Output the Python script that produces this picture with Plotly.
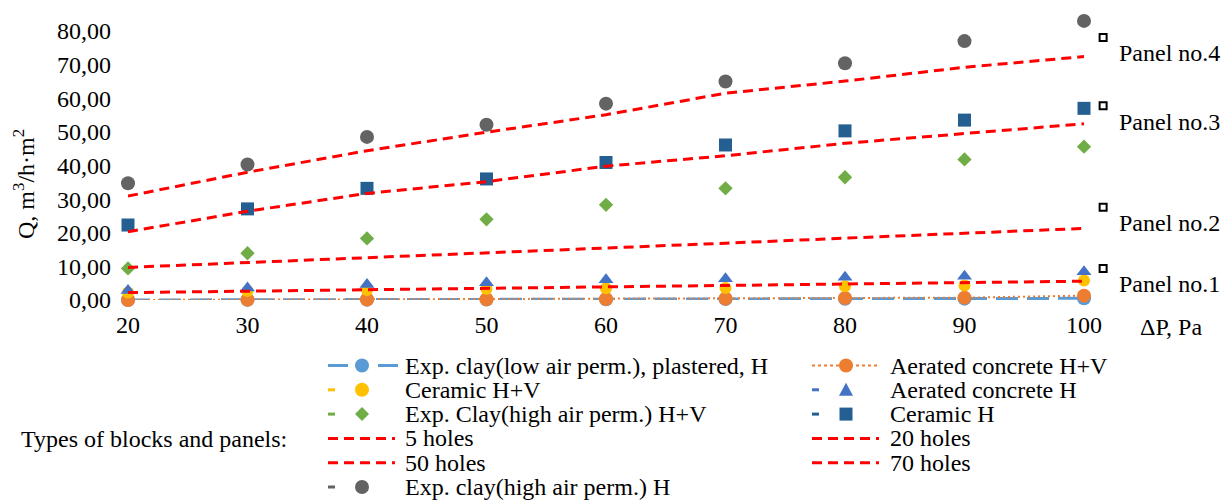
import plotly.graph_objects as go

# ---------------- data ----------------
dp = [20, 30, 40, 50, 60, 70, 80, 90, 100]
expclay_low_plastered_H = [0.0, 0.05, 0.1, 0.15, 0.2, 0.3, 0.35, 0.4, 0.5]
aerated_HV = [0.0, 0.1, 0.15, 0.2, 0.3, 0.4, 0.6, 0.7, 1.3]
ceramic_HV = [2.2, 2.7, 3.0, 3.3, 3.5, 3.6, 4.1, 4.3, 5.8]
aerated_H = [2.8, 3.6, 4.6, 5.1, 6.0, 6.3, 6.8, 7.1, 8.4]
expclay_high_HV = [9.4, 13.9, 18.3, 24.0, 28.3, 33.2, 36.5, 41.8, 45.6]
ceramic_H = [22.3, 27.1, 33.2, 36.0, 40.9, 46.1, 50.3, 53.5, 57.0]
holes_5 = [2.2, 2.6, 3.0, 3.4, 3.8, 4.3, 4.7, 5.1, 5.6]
holes_20 = [9.7, 11.1, 12.6, 14.1, 15.5, 16.9, 18.4, 19.8, 21.3]
holes_50 = [20.3, 26.4, 31.7, 35.2, 39.8, 42.9, 46.6, 49.6, 52.4]
holes_70 = [30.9, 38.0, 44.4, 49.9, 55.1, 61.5, 65.1, 69.2, 72.4]
expclay_high_H = [34.7, 40.3, 48.5, 52.1, 58.4, 65.0, 70.4, 77.0, 83.0]

panel_x = [101.6, 101.6, 101.6, 101.6]
panel_y = [78.1, 57.8, 27.6, 9.4]
panel_labels = ["Panel no.4", "Panel no.3", "Panel no.2", "Panel no.1"]

x_ticks = [20, 30, 40, 50, 60, 70, 80, 90, 100]
y_ticks = [0, 10, 20, 30, 40, 50, 60, 70, 80]

names = [
    "Exp. clay(low air perm.), plastered, H",
    "Aerated concrete H+V",
    "Ceramic H+V",
    "Aerated concrete H",
    "Exp. Clay(high air perm.) H+V",
    "Ceramic H",
    "5 holes",
    "20 holes",
    "50 holes",
    "70 holes",
    "Exp. clay(high air perm.) H",
]

# ---------------- styles ----------------
FONT = "Liberation Serif, Times New Roman, serif"
FS = 24
C_LBLUE = "#5B9BD5"
C_ORANGE = "#ED7D31"
C_YELLOW = "#FFC000"
C_BLUE = "#4472C4"
C_GREEN = "#70AD47"
C_DBLUE = "#255E91"
C_GREY = "#636363"
C_RED = "#FF0000"
RED_DASH = "10px,6px"

fig = go.Figure()

def markers(y, name, color, symbol, size):
    fig.add_trace(go.Scatter(
        x=dp, y=y, name=name, mode="markers", cliponaxis=False,
        marker=dict(color=color, symbol=symbol, size=size, line=dict(width=0)),
        showlegend=False))

fig.add_trace(go.Scatter(
    x=dp, y=expclay_low_plastered_H, name=names[0], mode="lines+markers",
    cliponaxis=False, line=dict(color=C_LBLUE, width=3, dash="22px,9px"),
    marker=dict(color=C_LBLUE, size=14), showlegend=False))
fig.add_trace(go.Scatter(
    x=dp, y=aerated_HV, name=names[1], mode="lines+markers",
    cliponaxis=False, line=dict(color=C_ORANGE, width=2, dash="2px,3px"),
    marker=dict(color=C_ORANGE, size=14), showlegend=False))
markers(ceramic_HV, names[2], C_YELLOW, "circle", 12)
markers(aerated_H, names[3], C_BLUE, "triangle-up", 13)
markers(expclay_high_HV, names[4], C_GREEN, "diamond", 11)
markers(ceramic_H, names[5], C_DBLUE, "square", 13)

for yv, nm in [(holes_5, names[6]), (holes_20, names[7]),
               (holes_50, names[8]), (holes_70, names[9])]:
    fig.add_trace(go.Scatter(
        x=dp, y=yv, name=nm, mode="lines", cliponaxis=False,
        line=dict(color=C_RED, width=3, dash=RED_DASH), showlegend=False))

markers(expclay_high_H, names[10], C_GREY, "circle", 14)

# panel label markers
fig.add_trace(go.Scatter(
    x=panel_x, y=panel_y, mode="markers", cliponaxis=False, showlegend=False,
    marker=dict(symbol="square-open", size=7, color="black",
                line=dict(width=2, color="black")),
    hoverinfo="skip"))

# ---------------- geometry ----------------
# pixel positions of the value grid: x=20 -> 128px, x=100 -> 1084px,
# y=0 -> 300px, y=80 -> 31px
X0_PX, X1_PX = 128, 1084
Y0_PX, Y80_PX = 300, 31
PX_PER_X = (X1_PX - X0_PX) / 80.0
PX_PER_Y = (Y0_PX - Y80_PX) / 80.0
L = X0_PX
R = 79                      # extend plot area to the right (invisible axis)
T = 11                      # extend plot area upward (invisible axis)
B = 500 - Y0_PX
W = 1223 - L - R
H = 500 - T - B
X_MAX = 20 + W / PX_PER_X
Y_MAX = H / PX_PER_Y

def pxx(px):
    return (px - L) / W

def pxy(py):
    return (T + H - py) / H

annotations = []
for xv, yv, lab in zip(panel_x, panel_y, panel_labels):
    annotations.append(dict(x=xv, y=yv, xref="x", yref="y", text=lab,
                            showarrow=False, xanchor="left", yanchor="middle",
                            xshift=14, yshift=-16,
                            font=dict(family=FONT, size=FS, color="black")))

annotations.append(dict(x=pxx(1138), y=pxy(327), xref="paper", yref="paper",
                        text="ΔP, Pa", showarrow=False, xanchor="left",
                        yanchor="middle",
                        font=dict(family=FONT, size=FS, color="black")))
annotations.append(dict(x=pxx(24), y=pxy(184), xref="paper", yref="paper",
                        text="Q, m<sup>3</sup>/h·m<sup>2</sup>", showarrow=False,
                        textangle=-90, xanchor="center", yanchor="middle",
                        font=dict(family=FONT, size=FS, color="black")))
annotations.append(dict(x=pxx(19), y=pxy(439), xref="paper", yref="paper",
                        text="Types of blocks and panels:", showarrow=False,
                        xanchor="left", yanchor="middle",
                        font=dict(family=FONT, size=FS, color="black")))

# ---------------- custom two-column legend ----------------
rows_py = [365.5, 389.8, 414.1, 438.4, 462.7, 487]
col_sym_left = [328, 812]
col_mark_x = [362, 846]
col_text_x = [404, 889]
# (kind, color, symbol) per legend entry, in legend order (row-major)
legend_style = [
    ("line+marker", C_LBLUE, "circle"),
    ("dot+marker", C_ORANGE, "circle"),
    ("tick+marker", C_YELLOW, "circle"),
    ("tick+marker", C_BLUE, "triangle"),
    ("tick+marker", C_GREEN, "diamond"),
    ("tick+marker", C_DBLUE, "square"),
    ("redline", C_RED, None),
    ("redline", C_RED, None),
    ("redline", C_RED, None),
    ("redline", C_RED, None),
    ("tick+marker", C_GREY, "circle"),
]

shapes = []

def hline(x0, x1, py, color, width, dash):
    shapes.append(dict(type="line", xref="paper", yref="paper",
                       x0=pxx(x0), x1=pxx(x1), y0=pxy(py), y1=pxy(py),
                       line=dict(color=color, width=width, dash=dash)))

def glyph(cx, py, color, symbol):
    base = dict(xref="paper", yref="paper", xsizemode="pixel", ysizemode="pixel",
                xanchor=pxx(cx), yanchor=pxy(py), fillcolor=color,
                line=dict(width=0))
    if symbol == "circle":
        s = dict(type="circle", x0=-7, x1=7, y0=-7, y1=7)
    elif symbol == "square":
        s = dict(type="rect", x0=-6.5, x1=6.5, y0=-6.5, y1=6.5)
    elif symbol == "diamond":
        s = dict(type="path", path="M 0 7 L 7 0 L 0 -7 L -7 0 Z")
    else:
        s = dict(type="path", path="M -7 -6 L 7 -6 L 0 7 Z")
    base.update(s)
    shapes.append(base)

for i, (name, (kind, color, symbol)) in enumerate(zip(names, legend_style)):
    row, col = divmod(i, 2)
    py = rows_py[row]
    xl = col_sym_left[col]
    mx = col_mark_x[col]
    if kind == "line+marker":
        hline(xl, xl + 20, py, color, 3, "solid")
        hline(mx + 16, mx + 36, py, color, 3, "solid")
        glyph(mx, py, color, symbol)
    elif kind == "dot+marker":
        hline(xl, mx - 4, py, color, 2, "dot")
        hline(mx + 4, mx + 34, py, color, 2, "dot")
        glyph(mx, py, color, symbol)
    elif kind == "tick+marker":
        hline(xl, xl + 7, py, color, 3, "solid")
        glyph(mx, py, color, symbol)
    else:
        hline(xl, xl + 67, py, color, 3, RED_DASH)
    annotations.append(dict(x=pxx(col_text_x[col]), y=pxy(py), xref="paper",
                            yref="paper", text=name, showarrow=False,
                            xanchor="left", yanchor="middle", borderpad=0,
                            font=dict(family=FONT, size=FS, color="black")))

fig.update_layout(
    width=1223, height=500,
    margin=dict(l=L, r=R, t=T, b=B, pad=0),
    paper_bgcolor="white", plot_bgcolor="white",
    separators=", ",
    showlegend=False,
    font=dict(family=FONT, size=FS, color="black"),
    xaxis=dict(range=[20, X_MAX], tickvals=x_ticks, showgrid=False,
               zeroline=False, showline=False, ticks="",
               ticklabelstandoff=8,
               tickfont=dict(family=FONT, size=FS, color="black")),
    yaxis=dict(range=[0, Y_MAX], tickvals=y_ticks, tickformat=".2f",
               showgrid=False, zeroline=False, showline=False, ticks="",
               ticklabelstandoff=16,
               tickfont=dict(family=FONT, size=FS, color="black")),
    annotations=annotations,
    shapes=shapes,
)

fig.write_html(
    "out.html",
    config={"displayModeBar": False},
    post_script="document.body.style.margin='0';document.body.style.overflow='hidden';",
)
